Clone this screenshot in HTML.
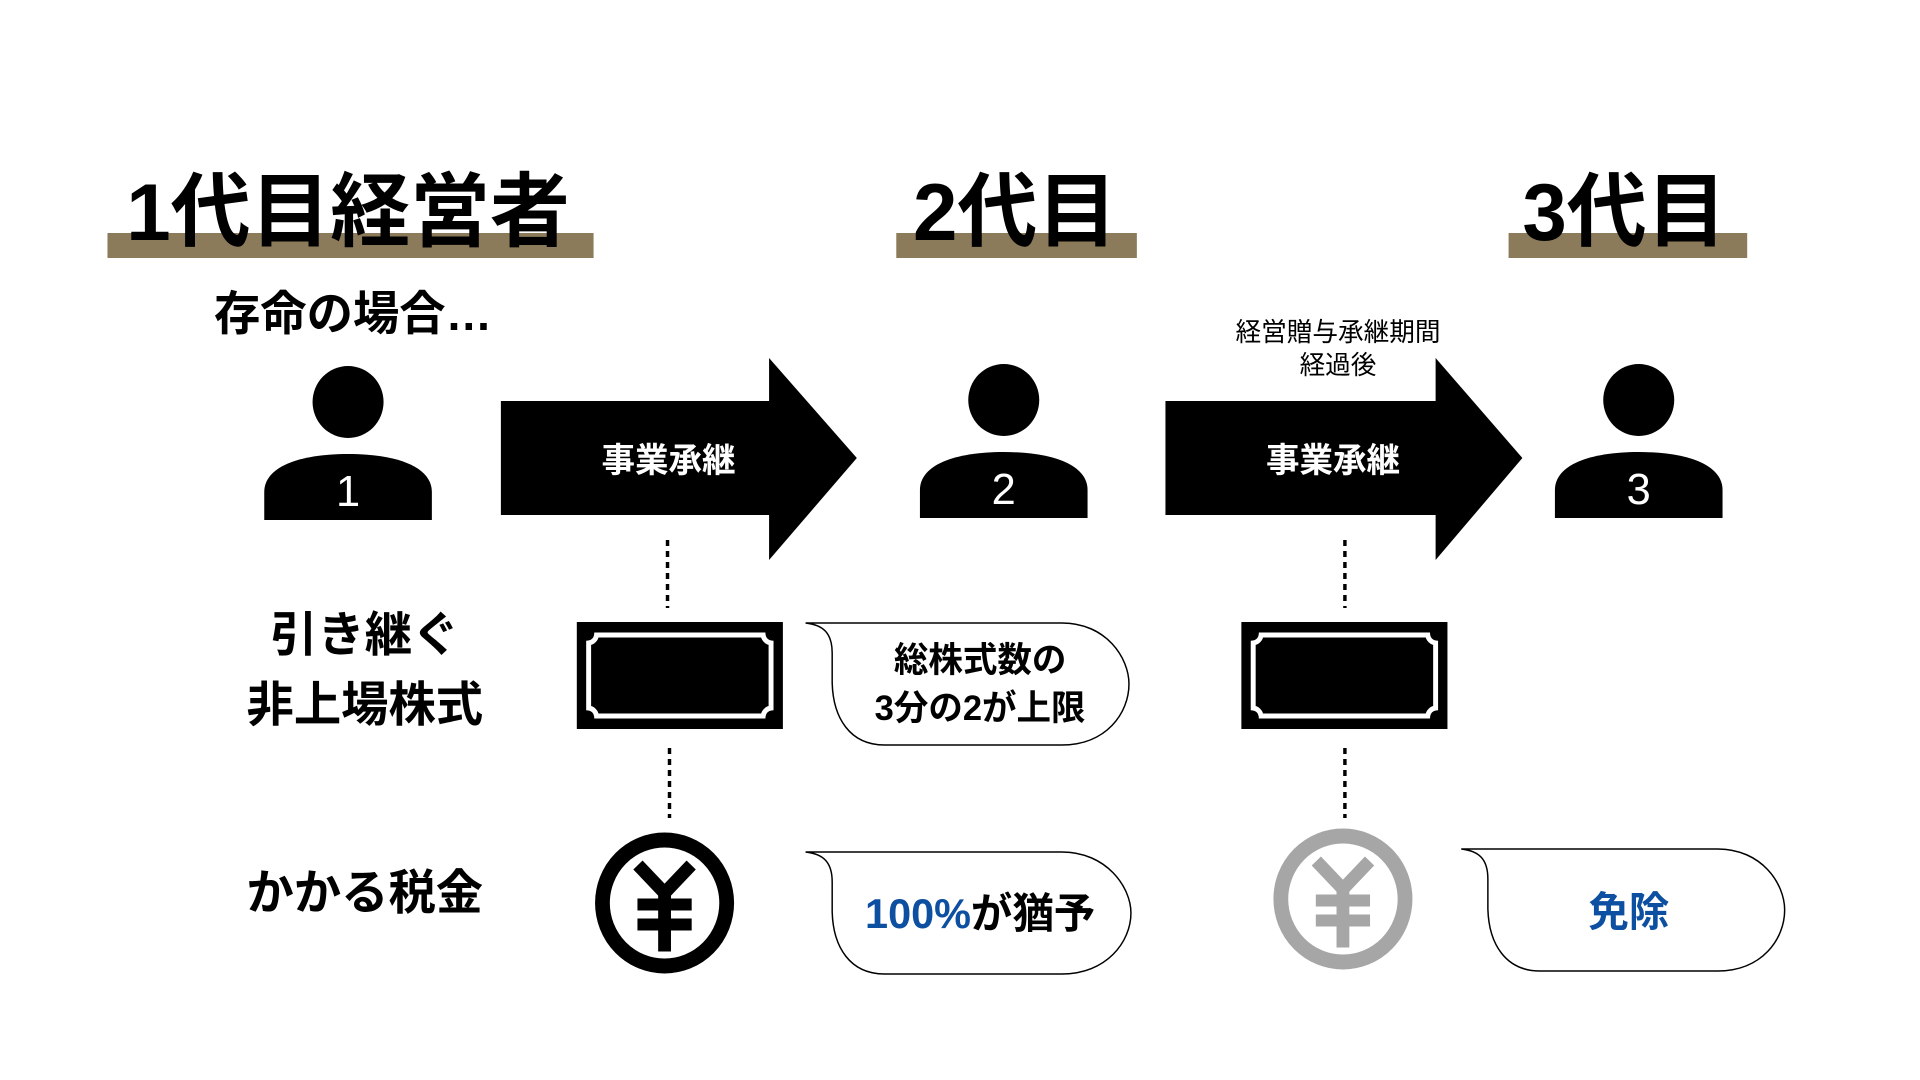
<!DOCTYPE html>
<html><head><meta charset="utf-8"><style>
html,body{margin:0;padding:0;background:#fff;}
svg{display:block;}
text{font-family:"Liberation Sans","Noto Sans CJK JP",sans-serif;font-weight:bold;}
</style></head><body>
<svg width="1920" height="1080" viewBox="0 0 1920 1080" xmlns="http://www.w3.org/2000/svg">
<defs>
<g id="person">
  <circle cx="0" cy="0" r="36" fill="#000"/>
  <path d="M-85,118 L-85,90 C-85,65 -50,52 0,52 C50,52 85,65 85,90 L85,118 Z" fill="#000"/>
</g>
<g id="cert">
  <rect x="0" y="0" width="209" height="107" fill="#000"/>
  <path d="M20,13 L189,13 A9,9 0 0 0 197,21 L197,86 A9,9 0 0 0 189,94 L20,94 A9,9 0 0 0 12,86 L12,21 A9,9 0 0 0 20,13 Z" fill="#000" stroke="#fff" stroke-width="5"/>
</g>
<g id="yen">
  <circle cx="0" cy="0" r="63" fill="none" stroke-width="15"/>
  <path d="M-27,-38 L0,-10 L27,-38" fill="none" stroke-width="13"/>
  <rect x="-6" y="-10" width="12" height="58"/>
  <rect x="-27" y="-4" width="54" height="11"/>
  <rect x="-27" y="16" width="54" height="11"/>
</g>
</defs>
<g transform="scale(0.986 1)">
<!-- Headers -->
<rect x="109" y="233" width="493" height="25" fill="#8c7b5a"/>
<text x="128" y="240" font-size="81" fill="#000">1代目経営者</text>
<rect x="909" y="233" width="244" height="25" fill="#8c7b5a"/>
<text x="926" y="240" font-size="81" fill="#000">2代目</text>
<rect x="1530" y="233" width="242" height="25" fill="#8c7b5a"/>
<text x="1544" y="240" font-size="81" fill="#000">3代目</text>

<text x="217" y="330" font-size="47" fill="#000">存命の場合…</text>

<!-- persons -->
<use href="#person" x="353" y="402"/>
<text x="353" y="506" font-size="44" fill="#fff" text-anchor="middle" style="font-weight:normal">1</text>
<use href="#person" x="1018" y="400"/>
<text x="1018" y="504" font-size="44" fill="#fff" text-anchor="middle" style="font-weight:normal">2</text>
<use href="#person" x="1662" y="400"/>
<text x="1662" y="504" font-size="44" fill="#fff" text-anchor="middle" style="font-weight:normal">3</text>

<!-- arrows -->
<path d="M508,401 L780,401 L780,358 L869,458 L780,560 L780,515 L508,515 Z" fill="#000"/>
<text x="678" y="472" font-size="34" fill="#fff" text-anchor="middle">事業承継</text>
<path d="M1182,401 L1456,401 L1456,358 L1544,458 L1456,560 L1456,515 L1182,515 Z" fill="#000"/>
<text x="1352" y="472" font-size="34" fill="#fff" text-anchor="middle">事業承継</text>

<text x="1357" y="341" font-size="26" fill="#000" text-anchor="middle" style="font-weight:normal">経営贈与承継期間</text>
<text x="1357" y="374" font-size="26" fill="#000" text-anchor="middle" style="font-weight:normal">経過後</text>

<!-- dotted lines -->
<g stroke="#000" stroke-width="3.5" stroke-dasharray="6,5">
<line x1="677" y1="540" x2="677" y2="608"/>
<line x1="679" y1="748" x2="679" y2="818"/>
<line x1="1364" y1="540" x2="1364" y2="608"/>
<line x1="1364" y1="748" x2="1364" y2="818"/>
</g>

<!-- row labels -->
<text x="370" y="651" font-size="48" fill="#000" text-anchor="middle">引き継ぐ</text>
<text x="370" y="721" font-size="48" fill="#000" text-anchor="middle">非上場株式</text>
<text x="370" y="909" font-size="48" fill="#000" text-anchor="middle">かかる税金</text>

<!-- certificates -->
<use href="#cert" x="585" y="622"/>
<use href="#cert" x="1259" y="622"/>

<!-- yen coins -->
<use href="#yen" x="674" y="903" fill="#000" stroke="#000"/>
<use href="#yen" x="1362" y="899" fill="#a6a6a6" stroke="#a6a6a6"/>

<!-- bubbles -->
<g fill="#fff" stroke="#000" stroke-width="1.5">
<path transform="translate(817,623)" d="M0,0 L260,0 C305,0 328,35 328,61 C328,90 305,122 260,122 L80,122 C45,122 28,95 27,60 L27,30 C27,10 18,2 0,0 Z"/>
<path transform="translate(817,852)" d="M0,0 L260,0 C305,0 330,35 330,61 C330,90 305,122 260,122 L80,122 C45,122 28,95 27,60 L27,30 C27,10 18,2 0,0 Z"/>
<path transform="translate(1482,849)" d="M0,0 L260,0 C305,0 328,35 328,61 C328,90 305,122 260,122 L80,122 C45,122 28,95 27,60 L27,30 C27,10 18,2 0,0 Z"/>
</g>
<text x="994" y="672" font-size="35" fill="#000" text-anchor="middle">総株式数の</text>
<text x="994" y="720" font-size="35" fill="#000" text-anchor="middle">3分の2が上限</text>
<text x="994" y="928" font-size="42" text-anchor="middle"><tspan fill="#0d4fa0">100%</tspan><tspan fill="#000">が猶予</tspan></text>
<text x="1652" y="926" font-size="41" fill="#0d4fa0" text-anchor="middle">免除</text>
</g>
</svg>
</body></html>
